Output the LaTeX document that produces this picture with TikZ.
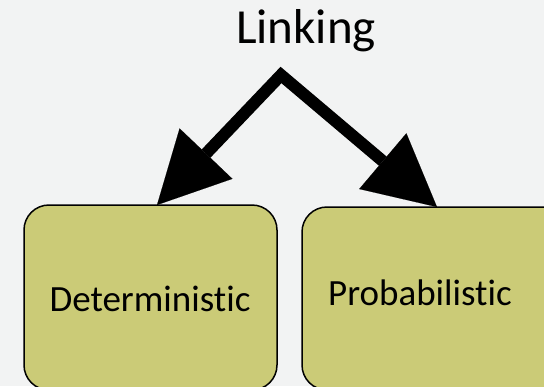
\documentclass[tikz,border=0pt]{standalone}
\usepackage{fontspec}
\setmainfont{Carlito}[Ligatures=NoCommon]
\usetikzlibrary{arrows.meta}
\definecolor{bg}{HTML}{F2F3F3}
\definecolor{boxfill}{HTML}{CBCB77}
\tikzset{
  box/.style={draw=black, line width=1.5pt, fill=boxfill, rounded corners=25pt},
  boxtext/.style={font=\fontsize{37}{44}\selectfont, anchor=base, inner sep=0pt},
  bigarrow/.style={line width=12pt, line join=miter,
    {Triangle[length=71pt,width=73pt,line width=0.1pt]}-{Triangle[length=71pt,width=73pt,line width=0.1pt]}}
}
\begin{document}
\begin{tikzpicture}[x=1pt,y=-1pt]
  \useasboundingbox (0,0) rectangle (544,386);
  \fill[bg] (0,0) rectangle (544,386);
  \node[font=\fontsize{49}{58}\selectfont, anchor=base, inner sep=0pt] (link) at (306,43) {Linking};
  \draw[box] (24,205) rectangle (277,390);
  \draw[box] (302,207) rectangle (570,390);
  \coordinate (detbox) at (157,205);
  \coordinate (probbox) at (437,207);
  \node[boxtext] (det) at (150,311) {Deterministic};
  \node[boxtext] (prob) at (420,305) {Probabilistic};
  \coordinate (apex) at (281,75);
  \draw[bigarrow] (detbox) -- (apex) -- (probbox);
\end{tikzpicture}
\end{document}
